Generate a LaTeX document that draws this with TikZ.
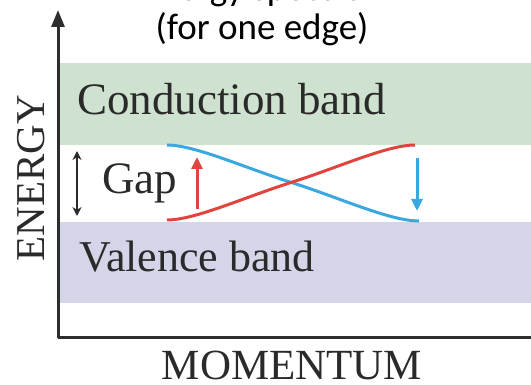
\documentclass[tikz,border=0pt]{standalone}
\usepackage{fontspec}
\setmainfont{Liberation Serif}
\newfontfamily\headfont{Carlito}
\usetikzlibrary{arrows.meta}
\definecolor{condgreen}{HTML}{CEE2CF}
\definecolor{valpurple}{HTML}{D5D5EA}
\definecolor{curvered}{HTML}{E0443E}
\definecolor{curveblue}{HTML}{3AA8E0}
\definecolor{axisgray}{HTML}{2E2E2E}
\definecolor{textdark}{HTML}{2A2A2A}
\tikzset{
  bandlabel/.style={inner sep=0pt, anchor=base west, text=textdark, font=\fontsize{45}{54}\selectfont},
  axislabel/.style={inner sep=0pt, anchor=base, text=textdark, font=\fontsize{43}{50}\selectfont},
  headlabel/.style={inner sep=0pt, anchor=base, text=black, font=\headfont\fontsize{37}{44}\selectfont},
  axisline/.style={draw=axisgray, line width=3pt},
  curve/.style={line width=3pt},
}
\begin{document}
\begin{tikzpicture}[x=1pt,y=-1pt]
\useasboundingbox (0,0) rectangle (531,385);
% bands
\fill[condgreen] (60,63) rectangle (531,145);
\fill[valpurple] (60,222) rectangle (531,303);
% headings
\node[headlabel] (title) at (268,1) {Energy spectrum};
\node[headlabel] (sub) at (262,40) {(for one edge)};
% axes
\coordinate (origin) at (58,338);
\coordinate (ytop) at (58,10);
\coordinate (xend) at (533,338);
\draw[axisline, -{Triangle[length=17pt,width=13pt]}] (origin) -- (ytop);
\draw[axisline] (origin) -- (xend);
% labels
\node[bandlabel] (cond) at (77,115) {Conduction band};
\node[bandlabel, font=\fontsize{44}{52}\selectfont] (val) at (79,272) {Valence band};
\node[bandlabel] (gap) at (102,194) {Gap};
\node[axislabel] (mom) at (292,380) {MOMENTUM};
\node[axislabel, font=\fontsize{41}{48}\selectfont, rotate=90] (en) at (45,178) {ENERGY};
% gap double arrow
\coordinate (g1) at (77,151);
\coordinate (g2) at (77,216);
\draw[textdark, line width=1.6pt, {Stealth[length=9pt,width=9pt]}-{Stealth[length=9pt,width=9pt]}] (g1) -- (g2);
% curves
\coordinate (r0) at (167,220);
\coordinate (rm) at (291,182.5);
\coordinate (r1) at (415,145);
\coordinate (b0) at (167,145);
\coordinate (b1) at (419,221);
\draw[curve, curveblue] (b0) .. controls (195,145) and (245,168) .. (293,183) .. controls (340,198) and (390,221) .. (b1);
\draw[curve, curvered] (r0) .. controls (195,220) and (245,197) .. (rm) .. controls (337,168) and (387,145) .. (r1);
% transition arrows
\coordinate (ra0) at (197,209);
\coordinate (ra1) at (197,157);
\coordinate (ba0) at (417,158);
\coordinate (ba1) at (417,211);
\draw[curvered, line width=3pt, -{Triangle[length=12pt,width=11pt]}] (ra0) -- (ra1);
\draw[curveblue, line width=3pt, -{Triangle[length=12pt,width=11pt]}] (ba0) -- (ba1);
\end{tikzpicture}
\end{document}
